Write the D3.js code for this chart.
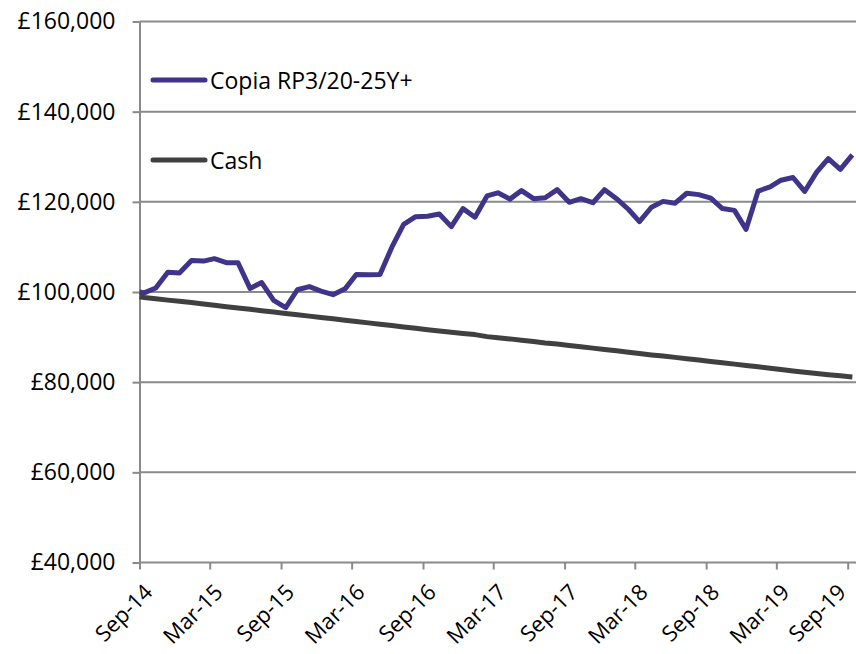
<!DOCTYPE html>
<html>
<head>
<meta charset="utf-8">
<script src="https://cdn.jsdelivr.net/npm/d3@7"></script>
<style>
  body { margin: 0; background: #fff; }
  svg { display: block; font-family: "Open Sans", sans-serif; }
</style>
</head>
<body>
<div id="chart"></div>
<script>
// valuation dates: start date, then monthly
var dates = [
  "2014-09-01",
  "2014-09-13", "2014-10-13", "2014-11-13", "2014-12-13",
  "2015-01-13", "2015-02-13", "2015-03-13", "2015-04-13", "2015-05-13", "2015-06-13",
  "2015-07-13", "2015-08-13", "2015-09-13", "2015-10-13", "2015-11-13", "2015-12-13",
  "2016-01-13", "2016-02-13", "2016-03-13", "2016-04-13", "2016-05-13", "2016-06-13",
  "2016-07-13", "2016-08-13", "2016-09-13", "2016-10-13", "2016-11-13", "2016-12-13",
  "2017-01-13", "2017-02-13", "2017-03-13", "2017-04-13", "2017-05-13", "2017-06-13",
  "2017-07-13", "2017-08-13", "2017-09-13", "2017-10-13", "2017-11-13", "2017-12-13",
  "2018-01-13", "2018-02-13", "2018-03-13", "2018-04-13", "2018-05-13", "2018-06-13",
  "2018-07-13", "2018-08-13", "2018-09-13", "2018-10-13", "2018-11-13", "2018-12-13",
  "2019-01-13", "2019-02-13", "2019-03-13", "2019-04-13", "2019-05-13", "2019-06-13",
  "2019-07-13", "2019-08-13", "2019-09-13"
];

var copia = [
  100000,
  99800, 100900, 104400, 104200,
  107000, 106850, 107400, 106500, 106500, 100800,
  102100, 98150, 96550, 100500, 101200, 100200,
  99400, 100700, 103900, 103800, 103900, 110000,
  115000, 116700, 116800, 117300, 114500, 118500,
  116600, 121300, 122000, 120600, 122500, 120700,
  120900, 122700, 119900, 120700, 119800, 122700,
  120700, 118300, 115600, 118800, 120100, 119700,
  121900, 121600, 120800, 118500, 118100, 113900,
  122400, 123300, 124800, 125400, 122300, 126600,
  129600, 127200, 130400
];

var cash = [
  98950,
  98800, 98500, 98200, 97950,
  97650, 97350, 97050, 96750, 96450, 96150,
  95850, 95550, 95250, 94950, 94650, 94350,
  94050, 93750, 93450, 93150, 92850, 92550,
  92250, 91950, 91650, 91350, 91050, 90800,
  90550, 90100, 89850, 89600, 89300, 89000,
  88700, 88450, 88150, 87850, 87550, 87250,
  86950, 86650, 86350, 86050, 85800, 85500,
  85200, 84900, 84600, 84300, 84000, 83700,
  83400, 83100, 82800, 82500, 82200, 81900,
  81650, 81400, 81150
];

var yTicks = [40000, 60000, 80000, 100000, 120000, 140000, 160000];
var xTicks = ["2014-09-01", "2015-03-01", "2015-09-01", "2016-03-01", "2016-09-01", "2017-03-01",
              "2017-09-01", "2018-03-01", "2018-09-01", "2019-03-01", "2019-09-01"];
var seriesNames = ["Copia RP3/20-25Y+", "Cash"];
var seriesColors = ["#3f3489", "#404040"];

var width = 856;
var height = 654;
var gridColor = "#8a8a8a";

var parse = d3.timeParse("%Y-%m-%d");

var svg = d3.select("#chart")
    .append("svg")
    .attr("width", width)
    .attr("height", height);

var x = d3.scaleTime()
    .domain([parse("2014-09-01"), parse("2019-09-01")])
    .range([139.5, 847.7]);

var y = d3.scaleLinear()
    .domain([40000, 160000])
    .range([562.5, 21.5]);

// gridlines (the 40,000 one doubles as the x axis line)
svg.append("g")
    .selectAll("line")
    .data(yTicks)
    .enter()
    .append("line")
    .attr("x1", x.range()[0])
    .attr("x2", width)
    .attr("y1", function(d) { return y(d); })
    .attr("y2", function(d) { return y(d); })
    .style("stroke", gridColor)
    .style("stroke-width", 2);

// y axis
var yAxis = svg.append("g")
    .attr("transform", "translate(" + x.range()[0] + ",0)")
    .call(d3.axisLeft(y)
        .tickValues(yTicks)
        .tickSize(7)
        .tickSizeOuter(0)
        .tickPadding(17)
        .tickFormat(function(d) { return "£" + d3.format(",")(d); }));
yAxis.selectAll("path, line").style("stroke", gridColor).style("stroke-width", 2);
yAxis.selectAll("text")
    .style("font-family", "'Open Sans', sans-serif")
    .style("font-size", "23px")
    .style("fill", "#000");

// x axis
var xAxis = svg.append("g")
    .attr("transform", "translate(0," + y(40000) + ")")
    .call(d3.axisBottom(x)
        .tickValues(xTicks.map(parse))
        .tickSize(7)
        .tickSizeOuter(0)
        .tickFormat(d3.timeFormat("%b-%y")));
xAxis.select(".domain").remove();
xAxis.selectAll("line").style("stroke", gridColor).style("stroke-width", 2);
xAxis.selectAll("text")
    .attr("x", 0)
    .attr("y", 0)
    .attr("dy", 0)
    .attr("text-anchor", "end")
    .attr("transform", function(d) {
        // keep the last label inside the picture
        var dx = Math.min(14, width - 9 - x(d));
        return "translate(" + dx + ",31) rotate(-45)";
    })
    .style("font-family", "'Open Sans', sans-serif")
    .style("font-size", "22px")
    .style("fill", "#000");

// lines
var rows = dates.map(function(d, i) {
    return { date: parse(d), values: [copia[i], cash[i]] };
});

var line = function(k) {
    return d3.line()
        .x(function(d) { return x(d.date); })
        .y(function(d) { return y(d.values[k]); });
};

[0, 1].forEach(function(k) {
    svg.append("path")
        .datum(rows)
        .attr("d", line(k))
        .style("fill", "none")
        .style("stroke", seriesColors[k])
        .style("stroke-width", 5)
        .style("stroke-linejoin", "round");
});

// legend
var legendY = [80, 160];
var legend = svg.append("g");
legend.selectAll("line")
    .data(seriesNames)
    .enter()
    .append("line")
    .attr("x1", 153)
    .attr("x2", 205)
    .attr("y1", function(d, i) { return legendY[i]; })
    .attr("y2", function(d, i) { return legendY[i]; })
    .style("stroke", function(d, i) { return seriesColors[i]; })
    .style("stroke-width", 5)
    .style("stroke-linecap", "round");
legend.selectAll("text")
    .data(seriesNames)
    .enter()
    .append("text")
    .attr("x", 210)
    .attr("y", function(d, i) { return legendY[i] + 9; })
    .style("font-size", "23px")
    .style("fill", "#000")
    .text(function(d) { return d; });
</script>
</body>
</html>
